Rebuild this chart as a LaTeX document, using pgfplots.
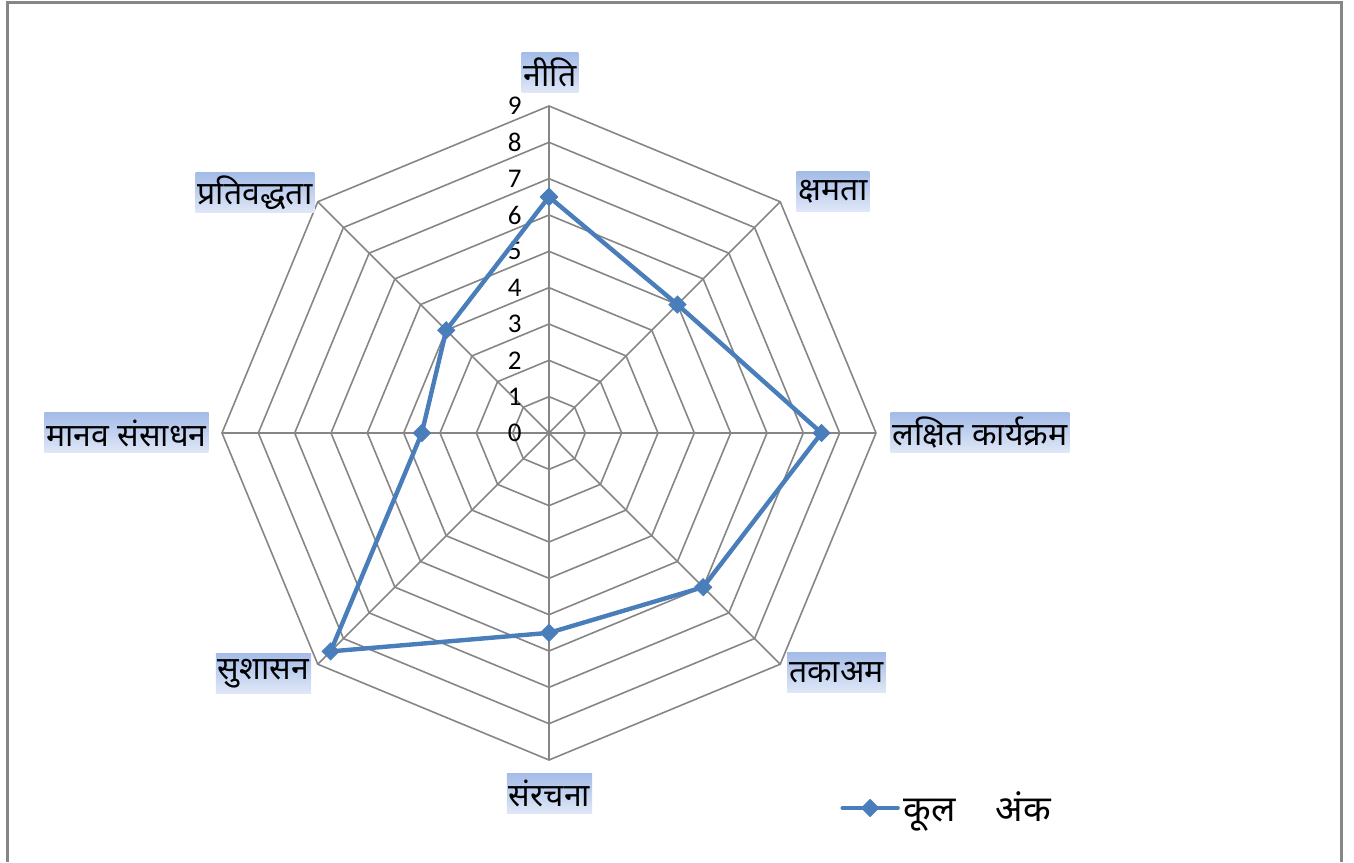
\documentclass[border=0pt]{standalone}
\usepackage{fontspec}
\setmainfont{Carlito}
\newfontfamily\dev[Script=Devanagari]{Noto Sans}
\usepackage{pgfplots}
\pgfplotsset{compat=1.18}
\usepgfplotslibrary{polar}
\definecolor{series}{RGB}{74,126,187}
\definecolor{gridc}{RGB}{134,134,134}
\definecolor{boxtop}{RGB}{164,188,232}
\definecolor{boxbot}{RGB}{224,232,247}
\begin{document}
\begin{tikzpicture}
\path[use as bounding box] (0pt,0pt) rectangle (677pt,431pt);
\draw[gridc, line width=1.5pt] (3.75pt,0pt) -- (3.75pt,429.5pt) -- (670.5pt,429.5pt) -- (670.5pt,0pt);
\begin{polaraxis}[
  at={(274.5pt,214.5pt)}, anchor=center,
  scale only axis, width=327pt, height=327pt,
  ymin=0, ymax=9, xmin=0, xmax=360,
  hide axis, clip=false,
  legend style={at={(axis description cs:0.945,-0.0734)}, anchor=west, draw=none, fill=none, inner sep=0pt,
    font=\fontsize{18}{21}\selectfont\dev},
  legend image code/.code={\draw[mark repeat=2,mark phase=2,#1] plot coordinates {(0pt,0pt)(13.75pt,0pt)(27.5pt,0pt)};},
]
\pgfplotsinvokeforeach{1,...,9}{
  \addplot[gridc, line width=0.8pt, no marks, forget plot] coordinates {(0,#1)(45,#1)(90,#1)(135,#1)(180,#1)(225,#1)(270,#1)(315,#1)(360,#1)};
}
\pgfplotsinvokeforeach{0,45,90,135,180,225,270,315}{
  \addplot[gridc, line width=0.8pt, no marks, forget plot] coordinates {(#1,0)(#1,9)};
}
\pgfplotsinvokeforeach{0,...,9}{
  \node[anchor=east, inner sep=0pt, xshift=-13.5pt, font=\fontsize{13.5}{15}\selectfont] at (axis cs:90,#1) {#1};
}
\addplot[series, line width=2.2pt, line cap=round, mark=square*, mark size=3pt, mark options={solid, rotate=45, line width=0.5pt, fill=series}]
  coordinates {(90,6.5)(45,5)(0,7.5)(315,6)(270,5.5)(225,8.5)(180,3.5)(135,4)(90,6.5)};
\addlegendentry{कूल\hspace{20pt}अंक}
\end{polaraxis}
\tikzset{lab/.style={top color=boxtop, bottom color=boxbot, inner xsep=1pt, inner ysep=0pt, minimum height=20pt, font=\fontsize{16}{19}\selectfont\dev}}
\node[lab] at (275pt,394.75pt) {नीति};
\node[lab] at (416.5pt,335pt) {क्षमता};
\node[lab] at (490pt,214.5pt) {लक्षित कार्यक्रम};
\node[lab] at (418.25pt,94.5pt) {तकाअम};
\node[lab] at (274.75pt,34.25pt) {संरचना};
\node[lab] at (131.75pt,94.25pt) {सुशासन};
\node[lab] at (63.25pt,214.5pt) {मानव संसाधन};
\node[lab] at (127.5pt,334.5pt) {प्रतिवद्धता};
\end{tikzpicture}
\end{document}
